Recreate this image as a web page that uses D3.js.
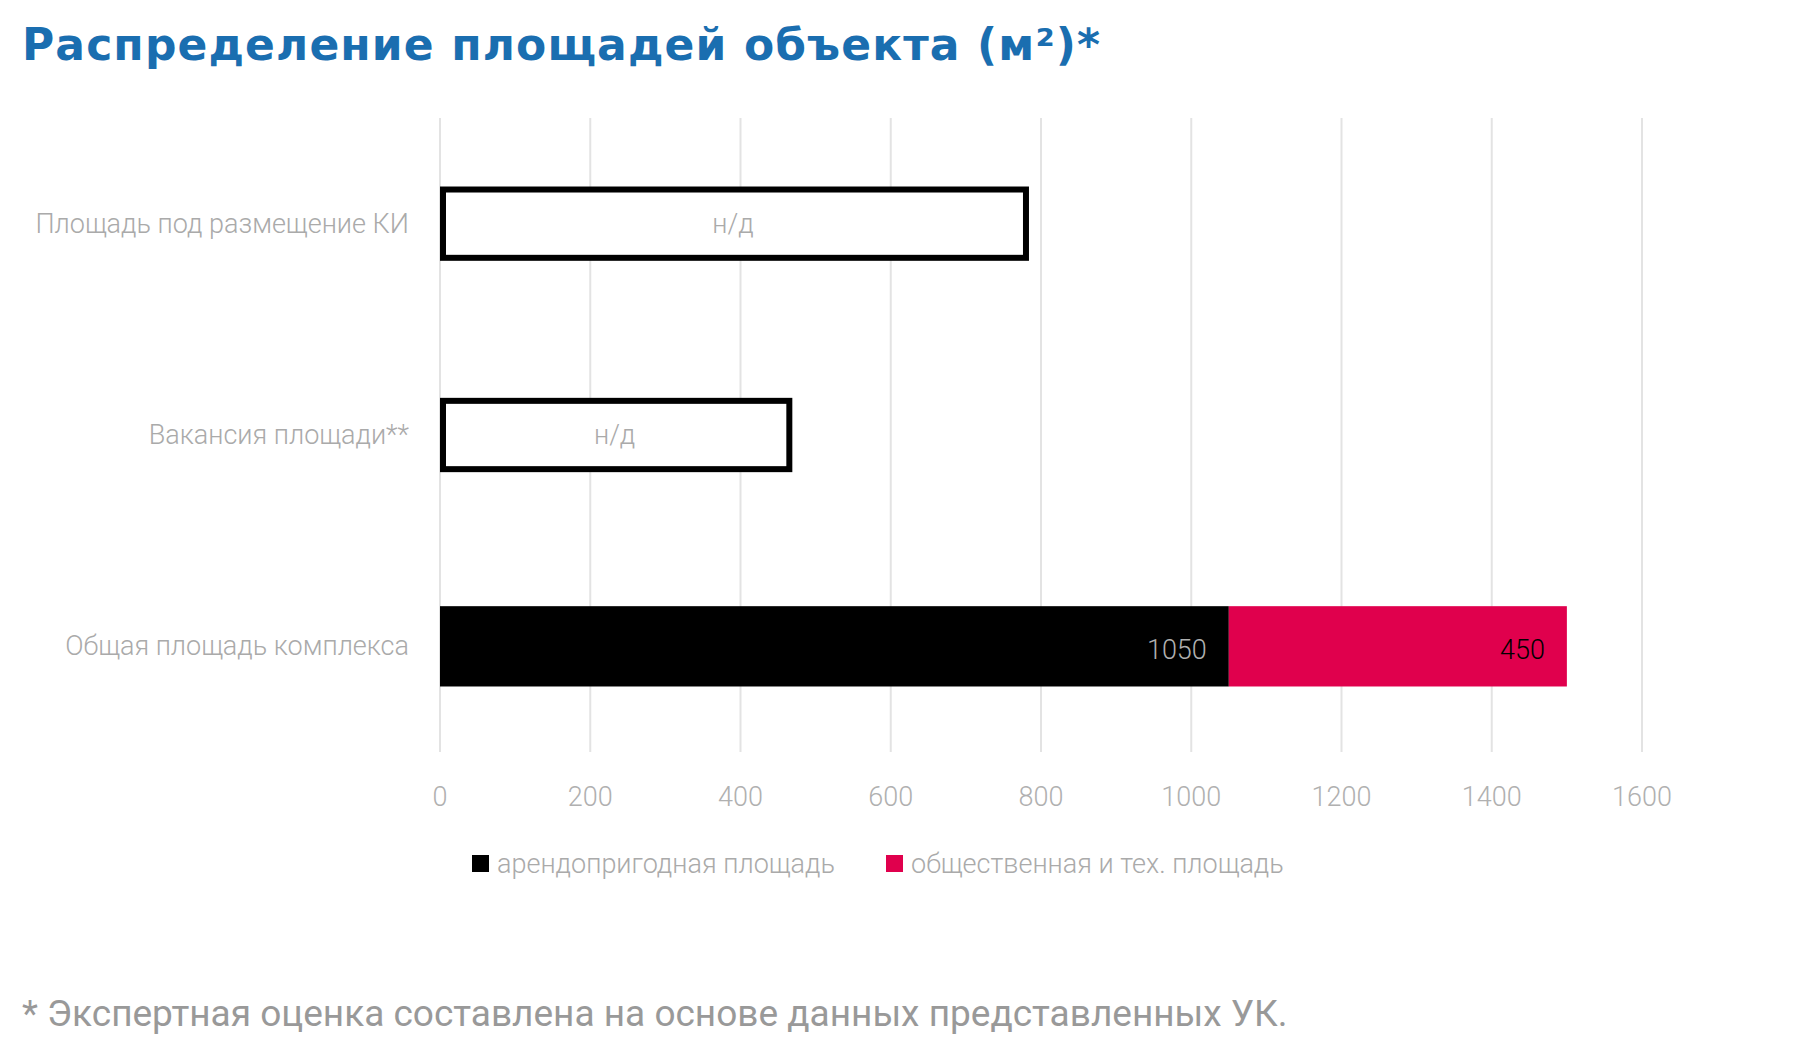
<!DOCTYPE html>
<html><head><meta charset="utf-8">
<script src="https://cdn.jsdelivr.net/npm/d3@7"></script>
<style>body{margin:0;background:#fff}svg{display:block}</style>
</head><body>
<script>
const categories = ["Площадь под размещение КИ","Вакансия площади**","Общая площадь комплекса"];
const rentable = [null, null, 1050];
const common = [null, null, 450];
const naValues = [780, 465, null];
const ticks = [0,200,400,600,800,1000,1200,1400,1600];
const seriesNames = ["арендопригодная площадь","общественная и тех. площадь"];
const colors = ["#000000","#e0004d"];

const W=1800,H=1061;
const svg=d3.select("body").append("svg").attr("width",W).attr("height",H);
const x=d3.scaleLinear().domain([0,1600]).range([440,1642]);
const y=d3.scaleBand().domain(categories).range([118,752]).paddingInner(0.62).paddingOuter(0.31);
const lf="Roboto, sans-serif";

svg.append("text").attr("x",22).attr("y",60).attr("fill","#1a6eb0")
 .attr("font-family","'DejaVu Sans', sans-serif").attr("font-weight","bold").attr("font-size",44)
 .attr("textLength",1078).text("Распределение площадей объекта (м²)*");

svg.append("g").selectAll("line").data(ticks).join("line")
 .attr("x1",d=>x(d)).attr("x2",d=>x(d)).attr("y1",118).attr("y2",752)
 .attr("stroke","#e3e3e3").attr("stroke-width",2);

svg.append("g").selectAll("text").data(ticks).join("text")
 .attr("x",d=>x(d)).attr("y",806).attr("text-anchor","middle").attr("fill","#b0b0b0")
 .attr("font-family",lf).attr("font-weight",300).attr("font-size",27).text(d=>d);

svg.append("g").selectAll("text").data(categories).join("text")
 .attr("x",409).attr("y",d=>y(d)+y.bandwidth()/2+9).attr("text-anchor","end").attr("fill","#aaaaaa")
 .attr("font-family",lf).attr("font-weight",300).attr("font-size",27).text(d=>d);

const bh=y.bandwidth();
categories.forEach((c,i)=>{
  if(naValues[i]!=null){
    svg.append("rect").attr("x",x(0)+3).attr("y",y(c)+6).attr("width",x(naValues[i])-x(0)-3)
      .attr("height",bh-12).attr("fill","#fff").attr("stroke","#000").attr("stroke-width",6);
    svg.append("text").attr("x",(x(0)+x(naValues[i]))/2).attr("y",y(c)+bh/2+9).attr("text-anchor","middle")
      .attr("fill","#aaaaaa").attr("font-family",lf).attr("font-weight",300).attr("font-size",27).text("н/д");
  }
  if(rentable[i]!=null){
    svg.append("rect").attr("x",x(0)).attr("y",y(c)).attr("width",x(rentable[i])-x(0)).attr("height",bh).attr("fill",colors[0]);
    svg.append("rect").attr("x",x(rentable[i])).attr("y",y(c)).attr("width",x(rentable[i]+common[i])-x(rentable[i])).attr("height",bh).attr("fill",colors[1]);
    svg.append("text").attr("x",x(rentable[i])-22).attr("y",y(c)+bh/2+13).attr("text-anchor","end")
      .attr("fill","#b0b0b0").attr("font-family",lf).attr("font-weight",300).attr("font-size",27).text(rentable[i]);
    svg.append("text").attr("x",x(rentable[i]+common[i])-22).attr("y",y(c)+bh/2+13).attr("text-anchor","end")
      .attr("fill","#000").attr("font-family",lf).attr("font-weight",300).attr("font-size",27).text(common[i]);
  }
});

const lx=[472,886];
seriesNames.forEach((s,i)=>{
  svg.append("rect").attr("x",lx[i]).attr("y",855).attr("width",17).attr("height",17).attr("fill",colors[i]);
  svg.append("text").attr("x",lx[i]+25).attr("y",873).attr("fill","#aaaaaa")
   .attr("font-family",lf).attr("font-weight",300).attr("font-size",27).text(s);
});

svg.append("text").attr("x",22).attr("y",1026).attr("fill","#999")
 .attr("font-family",lf).attr("font-size",37).text("* Экспертная оценка составлена на основе данных представленных УК.");
</script>
</body></html>
